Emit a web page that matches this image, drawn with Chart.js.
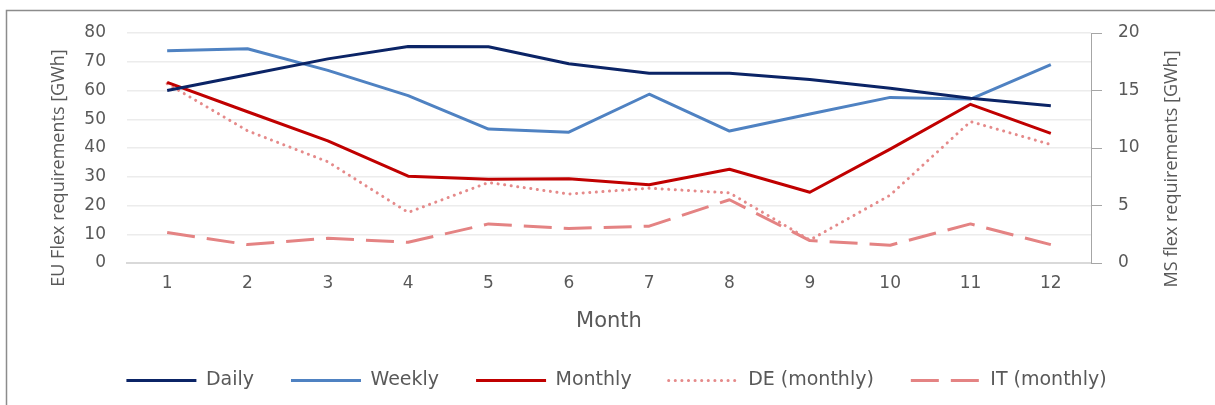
<!DOCTYPE html>
<html><head><meta charset="utf-8">
<script src="https://cdn.jsdelivr.net/npm/chart.js@4.4.0/dist/chart.umd.min.js"></script>
<style>html,body{margin:0;padding:0;background:#fff;overflow:hidden}#wrap{width:1215px;height:405px;position:relative}</style>
</head><body><div id="wrap"><canvas id="c" width="1215" height="405"></canvas></div>
<script>
const months = ['1','2','3','4','5','6','7','8','9','10','11','12'];
const daily   = [60, 65.5, 71, 75.3, 75.2, 69.3, 66, 66, 63.8, 60.8, 57.3, 54.7];
const weekly  = [73.8, 74.5, 67, 58.2, 46.6, 45.5, 58.7, 45.9, 51.8, 57.6, 57, 69];
const monthly = [62.8, 52.6, 42.5, 30.2, 29.1, 29.3, 27.2, 32.6, 24.6, 39.6, 55.2, 45.1];
const deMonthly = [15.6, 11.5, 8.8, 4.4, 7.0, 6.0, 6.5, 6.1, 2.0, 5.9, 12.3, 10.3];
const itMonthly = [2.65, 1.6, 2.15, 1.8, 3.4, 3.0, 3.2, 5.5, 1.95, 1.55, 3.4, 1.6];
const leftTicksMax = 80, rightTicksMax = 20;
const leftTitle = 'EU Flex requirements [GWh]';
const rightTitle = 'MS flex requirements [GWh]';
const xTitle = 'Month';

const TXT = '#595959';
const FONT = 'DejaVu Sans';

const framePlugin = {
  id: 'frame',
  beforeDraw(chart) {
    const ctx = chart.ctx;
    ctx.save();
    ctx.fillStyle = '#fff';
    ctx.fillRect(0, 0, chart.width, chart.height);
    ctx.strokeStyle = '#8c8c8c';
    ctx.lineWidth = 1.5;
    ctx.beginPath();
    ctx.moveTo(6.5, chart.height);
    ctx.lineTo(6.5, 10.5);
    ctx.lineTo(chart.width, 10.5);
    ctx.stroke();
    ctx.restore();
  },
  afterDraw(chart) {
    const ctx = chart.ctx, a = chart.chartArea;
    const cy = (a.top + a.bottom) / 2 + 20;
    ctx.save();
    ctx.fillStyle = TXT;
    ctx.font = '18px "Open Sans"';
    ctx.textAlign = 'center';
    ctx.textBaseline = 'middle';
    ctx.translate(a.left - 68, cy);
    ctx.rotate(-Math.PI / 2);
    ctx.fillText(leftTitle, 0, 0);
    ctx.restore();
    ctx.save();
    ctx.fillStyle = TXT;
    ctx.font = '18px "Open Sans"';
    ctx.textAlign = 'center';
    ctx.textBaseline = 'middle';
    ctx.translate(a.right + 81, cy + 1);
    ctx.rotate(-Math.PI / 2);
    ctx.fillText(rightTitle, 0, 0);
    ctx.restore();
  }
};

function ds(label, data, color, axis, extra) {
  return Object.assign({
    label, data, yAxisID: axis,
    borderColor: color, backgroundColor: color,
    borderWidth: 3, pointRadius: 0, pointHoverRadius: 0,
    tension: 0, fill: false, borderCapStyle: 'butt', borderJoinStyle: 'round'
  }, extra || {});
}

new Chart(document.getElementById('c'), {
  type: 'line',
  data: {
    labels: months,
    datasets: [
      ds('Daily', daily, '#0b2466', 'y'),
      ds('Weekly', weekly, '#4f82c2', 'y'),
      ds('Monthly', monthly, '#c00000', 'y'),
      ds('DE (monthly)', deMonthly, '#e58a8a', 'y1', {borderDash: [0.1, 6.5], borderCapStyle: 'round', borderWidth: 3}),
      ds('IT (monthly)', itMonthly, '#e48383', 'y1', {borderDash: [28, 12]})
    ]
  },
  options: {
    responsive: false,
    animation: false,
    layout: { padding: { left: 18, right: 0, top: 33, bottom: 5 } },
    plugins: {
      tooltip: { enabled: false },
      legend: {
        position: 'bottom',
        labels: {
          usePointStyle: true,
          pointStyleWidth: 70,
          boxWidth: 70,
          padding: 37,
          color: TXT,
          font: { family: FONT, size: 19 },
          generateLabels(chart) {
            return chart.data.datasets.map((d, i) => ({
              text: d.label,
              fillStyle: d.borderColor,
              strokeStyle: d.borderColor,
              lineWidth: d.borderWidth,
              lineDash: d.borderDash || [],
              lineCap: d.borderCapStyle || 'butt',
              pointStyle: 'line',
              hidden: false,
              datasetIndex: i,
              fontColor: TXT
            }));
          }
        }
      }
    },
    scales: {
      x: {
        type: 'category',
        offset: true,
        grid: { display: false, drawTicks: false },
        border: { display: true, color: '#d9d9d9', width: 2 },
        ticks: { color: TXT, font: { family: FONT, size: 17 }, padding: 10, maxRotation: 0 },
        title: { display: true, text: xTitle, color: TXT, font: { family: FONT, size: 21 }, padding: { top: 0, bottom: 0 } },
        afterFit(s) { s.height = 71; }
      },
      y: {
        position: 'left',
        min: 0, max: leftTicksMax,
        ticks: { stepSize: 10, color: TXT, font: { family: FONT, size: 17 }, padding: 21 },
        grid: { color: '#ececec', lineWidth: 1.5, drawTicks: false },
        border: { display: false },
        afterFit(s) { s.width = 109; }
      },
      y1: {
        position: 'right',
        min: 0, max: rightTicksMax,
        ticks: { stepSize: 5, color: TXT, font: { family: FONT, size: 17 }, padding: 16 },
        grid: { drawOnChartArea: false, drawTicks: true, tickLength: 11, color: '#a6a6a6', lineWidth: 1 },
        border: { display: true, color: '#a6a6a6', width: 1 },
        afterFit(s) { s.width = 124; }
      }
    }
  },
  plugins: [framePlugin]
});
</script>
</body></html>
